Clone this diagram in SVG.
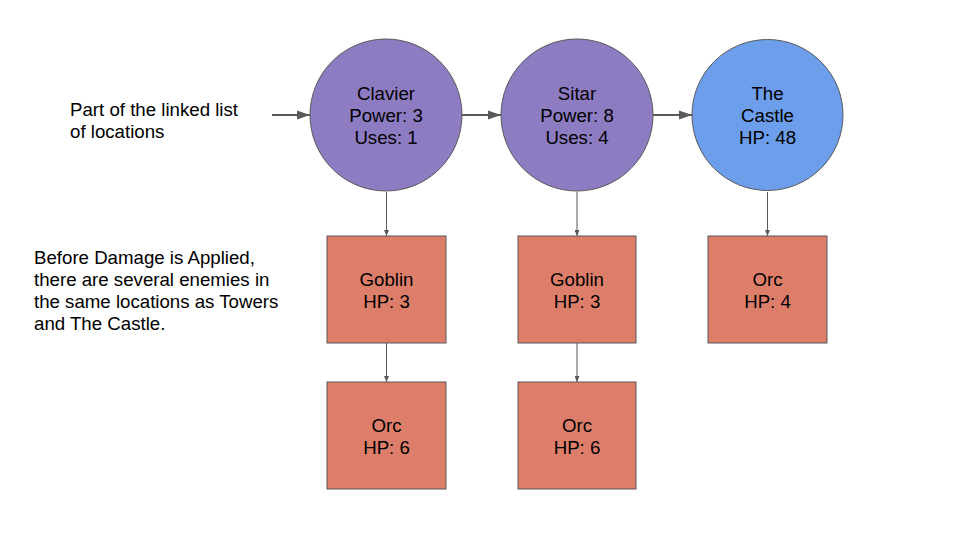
<svg xmlns="http://www.w3.org/2000/svg" width="960" height="540" viewBox="0 0 960 540">
<style>
text{font-family:"Liberation Sans",Arial,sans-serif;font-size:18.67px;fill:#000}
.c{text-anchor:middle}
.tower{fill:#8e7cc3;stroke:#595959;stroke-width:1}
.castle{fill:#6d9eeb;stroke:#595959;stroke-width:1}
.enemy{fill:#dd7e6b;stroke:#595959;stroke-width:1}
.h{stroke:#595959;stroke-width:2;fill:none;marker-end:url(#ah)}
.v{stroke:#595959;stroke-width:1;fill:none;marker-end:url(#av)}
</style>
<defs>
<marker id="ah" markerWidth="6.5" markerHeight="4.6" refX="6.5" refY="2.3" orient="auto" markerUnits="strokeWidth"><path d="M0,0 L6.5,2.3 L0,4.6 Z" fill="#595959"/></marker>
<marker id="av" markerWidth="6" markerHeight="5" refX="6" refY="2.5" orient="auto" markerUnits="strokeWidth"><path d="M0,0 L6,2.5 L0,5 Z" fill="#595959"/></marker>
</defs>
<rect width="960" height="540" fill="#fff"/>
<g id="connectors">
<line class="h" x1="272" y1="115" x2="310" y2="115"/>
<line class="h" x1="462" y1="115" x2="501" y2="115"/>
<line class="h" x1="653" y1="115" x2="692" y2="115"/>
<line class="v" x1="386.5" y1="192" x2="386.5" y2="236"/>
<line class="v" x1="577" y1="192" x2="577" y2="236"/>
<line class="v" x1="767.5" y1="192" x2="767.5" y2="236"/>
<line class="v" x1="386.5" y1="343" x2="386.5" y2="382"/>
<line class="v" x1="577" y1="343" x2="577" y2="382"/>
</g>
<g id="label-linked-list">
<text x="70" y="116">Part of the linked list</text>
<text x="70" y="138">of locations</text>
</g>
<g id="label-before-damage">
<text x="34" y="264">Before Damage is Applied,</text>
<text x="34" y="286">there are several enemies in</text>
<text x="34" y="308">the same locations as Towers</text>
<text x="34" y="330">and The Castle.</text>
</g>
<g id="clavier">
<circle class="tower" cx="386" cy="115" r="76"/>
<text class="c" x="386" y="100">Clavier</text>
<text class="c" x="386" y="122">Power: 3</text>
<text class="c" x="386" y="144">Uses: 1</text>
</g>
<g id="sitar">
<circle class="tower" cx="577" cy="115" r="76"/>
<text class="c" x="577" y="100">Sitar</text>
<text class="c" x="577" y="122">Power: 8</text>
<text class="c" x="577" y="144">Uses: 4</text>
</g>
<g id="castle">
<circle class="castle" cx="767.5" cy="115" r="75.5"/>
<text class="c" x="767.5" y="100">The</text>
<text class="c" x="767.5" y="122">Castle</text>
<text class="c" x="767.5" y="144">HP: 48</text>
</g>
<g id="goblin1">
<rect class="enemy" x="327" y="236" width="119" height="107"/>
<text class="c" x="386.5" y="286">Goblin</text>
<text class="c" x="386.5" y="308">HP: 3</text>
</g>
<g id="goblin2">
<rect class="enemy" x="518" y="236" width="118" height="107"/>
<text class="c" x="577" y="286">Goblin</text>
<text class="c" x="577" y="308">HP: 3</text>
</g>
<g id="orc-castle">
<rect class="enemy" x="708" y="236" width="119" height="107"/>
<text class="c" x="767.5" y="286">Orc</text>
<text class="c" x="767.5" y="308">HP: 4</text>
</g>
<g id="orc1">
<rect class="enemy" x="327" y="382" width="119" height="107"/>
<text class="c" x="386.5" y="432">Orc</text>
<text class="c" x="386.5" y="454">HP: 6</text>
</g>
<g id="orc2">
<rect class="enemy" x="518" y="382" width="118" height="107"/>
<text class="c" x="577" y="432">Orc</text>
<text class="c" x="577" y="454">HP: 6</text>
</g>
</svg>
